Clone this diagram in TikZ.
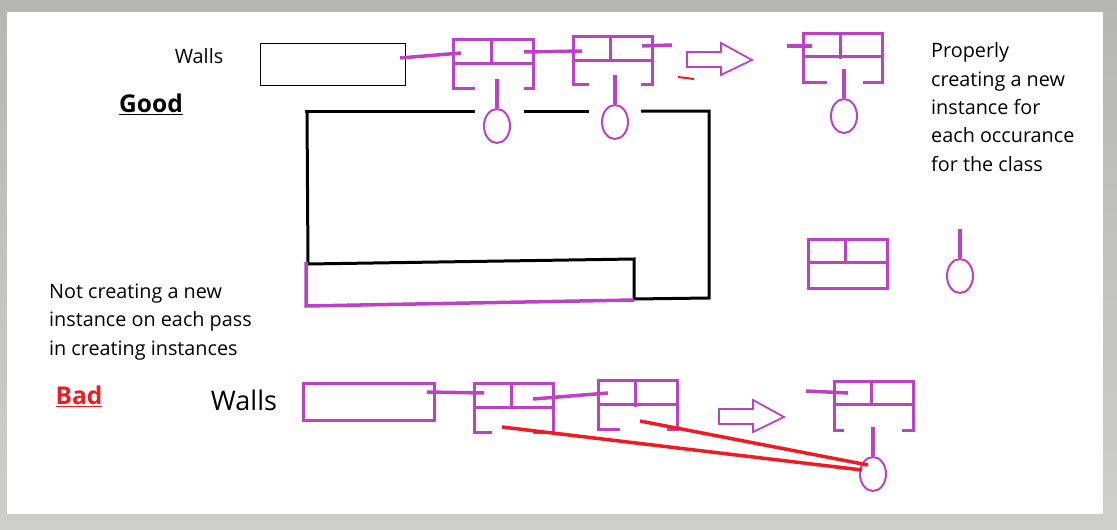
\documentclass[tikz,border=0pt]{standalone}
\usepackage{fontspec}
\setmainfont{Open Sans}
\usetikzlibrary{shapes.geometric}
\definecolor{inkpurple}{RGB}{187,66,194}
\definecolor{inkred}{RGB}{237,28,36}
\definecolor{frametop}{RGB}{182,182,181}
\definecolor{framelow}{RGB}{206,207,204}
\begin{document}
\begin{tikzpicture}[x=1pt,y=-1pt,
  pen/.style={inkpurple,line width=3pt},
  thickpen/.style={inkpurple,line width=3.5pt},
  ring/.style={ellipse,draw=inkpurple,line width=2pt,minimum width=26pt,minimum height=34pt,inner sep=0pt},
  hollow/.style={draw=inkpurple,line width=1.8pt,line join=miter},
  wall/.style={black,line width=3pt},
  note/.style={anchor=west,align=left,inner sep=0pt,font=\fontsize{19.8}{28.3}\selectfont},
  verdict/.style={inner sep=0pt,font=\fontsize{24.5}{28}\selectfont\bfseries}]
            \shade[top color=frametop,bottom color=framelow] (0,0) rectangle (1117,530);
            \fill[white] (7,12) rectangle (1103,514);
            \useasboundingbox (0,0) rectangle (1117,530);
            % good
            \node[note,anchor=center] (wallsgood) at (199,56) {Walls};
            \node[verdict] (good) at (151,104) {\underline{Good}};
            \node[draw,line width=1pt,minimum width=145pt,minimum height=42pt,inner sep=0pt] (wallboxgood) at (332.5,64) {};
            \draw [thickpen] (400,58) -- (461,53);
            \draw [pen] (475,88) -- (453,88) -- (453,39) -- (533,39) -- (533,88) -- (524,88);
            \draw [pen] (453,63) -- (533,63);
            \draw [pen] (491,39) -- (491,63);
            \node[ring] (ringa) at (497,126) {};
            \draw [thickpen] (497,79) -- (ringa.north);
            \draw [thickpen] (524,52) -- (582,51);
            \draw [pen] (589,84) -- (573,84) -- (573,36) -- (652,36) -- (652,84) -- (641,84);
            \draw [pen] (573,60) -- (652,60);
            \draw [pen] (610,36) -- (610,62);
            \node[ring] (ringb) at (615,122) {};
            \draw [thickpen] (615,75) -- (ringb.north);
            \draw [thickpen] (642,46) -- (672,45);
            \draw [inkred,line width=2pt] (678,77) -- (694,79);
            \draw [hollow] (687,52) -- (721,52) -- (721,43) -- (752,60) -- (721,75) -- (721,67) -- (687,67) -- cycle;
            \draw [thickpen] (787,46) -- (812,46);
            \draw [pen] (827,82) -- (803,82) -- (803,33) -- (882,33) -- (882,82) -- (863,82);
            \draw [pen] (803,56) -- (882,56);
            \draw [pen] (840,33) -- (840,59);
            \node[ring] (ringc) at (844,116) {};
            \draw [thickpen] (844,69) -- (ringc.north);
            \node[note] (proper) at (931,107) {Properly\\creating a new\\instance for\\each occurance\\for the class};
            % walls
            \draw [wall] (305,111) -- (475,111);
            \draw [wall] (524,111) -- (589,111);
            \draw [wall] (641,111) -- (709,111) -- (709,298) -- (634,299) -- (634,259) -- (308,264) -- (307,111);
            \draw [pen,line width=3.5pt] (306,262) -- (306,306) -- (634,300);
            % lone instance
            \draw [pen] (808,239) rectangle (887,288);
            \draw [pen] (808,262) -- (887,262);
            \draw [pen] (845,239) -- (845,264);
            \node[ring] (ringd) at (960,276) {};
            \draw [thickpen] (960,229) -- (ringd.north);
            % bad
            \node[note] (notnew) at (49,322) {Not creating a new\\instance on each pass\\in creating instances};
            \node[verdict,text=inkred] (bad) at (79,396) {\underline{Bad}};
            \node[inner sep=0pt,font=\fontsize{27}{30}\selectfont] (wallsbad) at (244,400) {Walls};
            \node[draw=inkpurple,line width=3pt,minimum width=131pt,minimum height=37pt,inner sep=0pt] (wallboxbad) at (368.5,401.5) {};
            \draw [thickpen] (427,392) -- (484,393);
            \draw [pen] (492,432) -- (474,432) -- (474,383) -- (553,383) -- (553,432) -- (533,432);
            \draw [pen] (474,407) -- (553,407);
            \draw [pen] (511,383) -- (511,408);
            \draw [thickpen] (533,399) -- (608,393);
            \draw [pen] (620,429) -- (598,429) -- (598,380) -- (677,380) -- (677,429) -- (667,429);
            \draw [pen] (598,404) -- (677,404);
            \draw [pen] (635,380) -- (635,407);
            \draw [hollow] (719,409) -- (753,409) -- (753,400) -- (784,417) -- (753,432) -- (753,424) -- (719,424) -- cycle;
            \draw [thickpen] (806,391) -- (848,393);
            \draw [pen] (844,430) -- (834,430) -- (834,381) -- (913,381) -- (913,430) -- (902,430);
            \draw [pen] (834,404) -- (913,404);
            \draw [pen] (871,381) -- (871,406);
            \node[ring] (ringe) at (873,474) {};
            \draw [thickpen] (873,427) -- (ringe.north);
            \coordinate (hita) at (862,470);
            \coordinate (hitb) at (868,465);
            \draw [inkred,line width=3.5pt] (502,427) -- (hita);
            \draw [inkred,line width=3.5pt] (640,421) -- (hitb);
        \end{tikzpicture}
\end{document}
